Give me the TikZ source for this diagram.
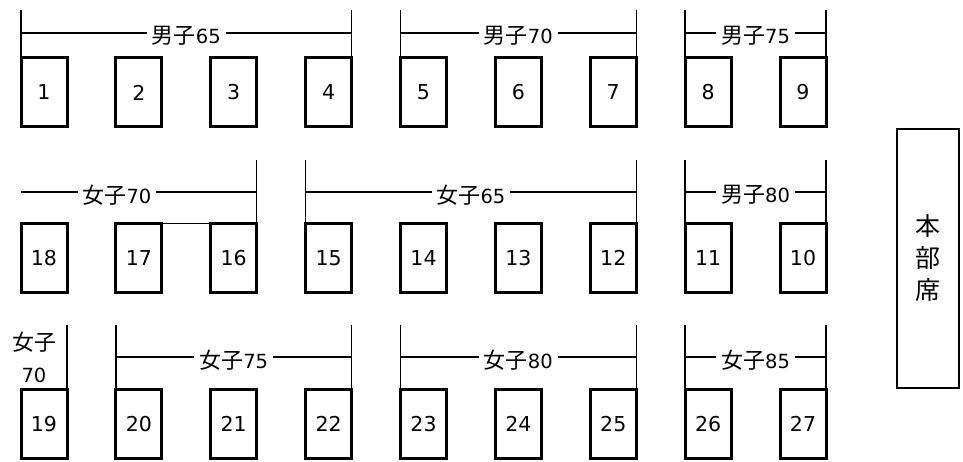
\documentclass[tikz,border=0pt]{standalone}
\usepackage{fontspec}
\setmainfont{DejaVu Sans}
\newfontfamily\cjk{Noto Sans CJK JP}
\newcommand\cjkL{\cjk\fontsize{22}{26}\selectfont}
\newcommand\grp[5]{%
  \draw[brk] (#1.north west) -- (#1.north west |- 0,#3);
  \draw[brk] (#2.north east) -- (#2.north east |- 0,#3);
  \draw[brk] (#1.north west |- 0,#4) -- (#2.north east |- 0,#4);
  \path (#1.north west |- 0,#4) -- node[lbl]{#5} (#2.north east |- 0,#4);
}
\begin{document}
\begin{tikzpicture}[x=1pt,y=-1pt,
  seat/.style={draw, line width=3pt, minimum width=46pt, minimum height=69pt,
    inner sep=0pt, outer sep=0pt, font=\fontsize{20.5}{24}\selectfont},
  brk/.style={line width=1.3pt},
  lbl/.style={fill=white, inner xsep=5pt, inner ysep=1pt, yshift=-3pt,
    font=\fontsize{19.5}{22}\selectfont},
]
\useasboundingbox (0,0) rectangle (963,462);
\fill[white] (0,0) rectangle (963,462);

% seats
\foreach \n [count=\k from 0] in {1,2,3,4,5,6,7,8,9}
  \node[seat] (b\n) at (44+94.875*\k, 92.5) {\n};
\foreach \n [count=\k from 0] in {18,17,16,15,14,13,12,11,10}
  \node[seat] (b\n) at (44+94.875*\k, 258) {\n};
\foreach \n [count=\k from 0] in {19,20,21,22,23,24,25,26,27}
  \node[seat] (b\n) at (44+94.875*\k, 424) {\n};

% headquarters
\node[draw, line width=1.3pt, minimum width=62pt, minimum height=259pt,
  inner sep=0pt, align=center, font=\cjk\fontsize{25}{32}\selectfont]
  (hq) at (928,258.5) {本\\部\\席};

% row 1 groups
\grp{b1}{b4}{10}{33}{{\cjkL 男子}65}
\grp{b5}{b7}{10}{33}{{\cjkL 男子}70}
\grp{b8}{b9}{10}{33}{{\cjkL 男子}75}

% row 2 groups
\draw[brk] (b16.north east) -- (b16.north east |- 0,160);
\draw[brk] (b18.north west |- 0,192) -- (b16.north east |- 0,192);
\node[lbl] (g70) at (117,192) {{\cjkL 女子}70};
\draw[brk] (b17.north east) -- (b16.north west);
\grp{b15}{b12}{160}{192}{{\cjkL 女子}65}
\grp{b11}{b10}{160}{192}{{\cjkL 男子}80}

% row 3 groups
\draw[brk] (b19.north east) -- (b19.north east |- 0,325);
\node[font=\cjkL] (l19a) at (34.5,342) {女子};
\node[font=\fontsize{19.5}{22}\selectfont] (l19b) at (34,375) {70};
\grp{b20}{b22}{325}{357}{{\cjkL 女子}75}
\grp{b23}{b25}{325}{357}{{\cjkL 女子}80}
\grp{b26}{b27}{325}{357}{{\cjkL 女子}85}
\end{tikzpicture}
\end{document}
